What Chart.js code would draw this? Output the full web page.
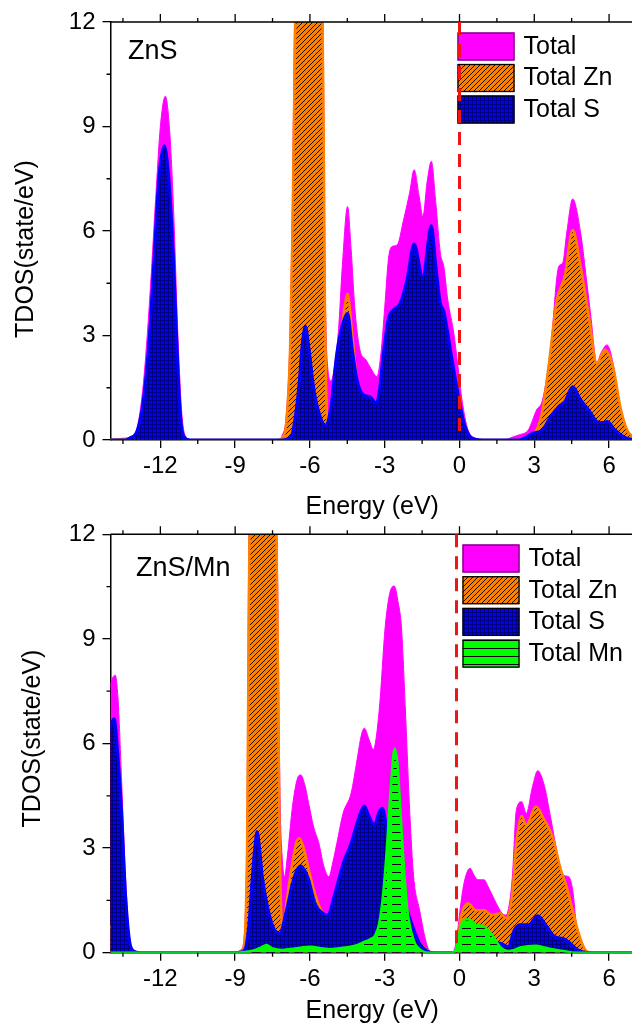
<!DOCTYPE html>
<html>
<head>
<meta charset="utf-8">
<script src="https://cdn.jsdelivr.net/npm/chart.js@4.4.1/dist/chart.umd.min.js"></script>
<style>
  html, body { margin: 0; padding: 0; background: #fff; overflow: hidden; width: 632px; height: 1026px; }
  canvas { position: absolute; left: 0; }
  #zns { top: 0; }
  #znsmn { top: 500px; }
</style>
</head>
<body>
<canvas id="zns" width="640" height="530"></canvas>
<canvas id="znsmn" width="640" height="526"></canvas>
<script>
// Axis ticks and labels
const energyTicks = [-12, -9, -6, -3, 0, 3, 6];
const energyMinor = [-13.5, -10.5, -7.5, -4.5, -1.5, 1.5, 4.5];
const dosTicks = [0, 3, 6, 9, 12];
const dosMinor = [1.5, 4.5, 7.5, 10.5];
const seriesNames = ['Total', 'Total Zn', 'Total S', 'Total Mn'];
const panelNames = ['ZnS', 'ZnS/Mn'];
const xTitle = 'Energy (eV)';
const yTitle = 'TDOS(state/eV)';
const fermiLevels = [0, -0.12];

// ---- ZnS: total DOS
const znsTotalE = [-14.5, -13.3, -13.1, -12.92, -12.68, -12.43, -12.19, -12.0, -11.8, -11.62,
  -11.46, -11.3, -11.14, -10.98, -10.7, -7.3, -7.1, -6.95, -6.8, -6.7,
  -6.6, -6.3, -5.9, -5.6, -5.5, -5.45, -5.4, -5.35, -5.3, -5.15,
  -5.0, -4.85, -4.7, -4.49, -4.35, -4.2, -4.0, -3.75, -3.55, -3.31,
  -3.15, -3.0, -2.85, -2.72, -2.5, -2.25, -2.0, -1.82, -1.62, -1.47,
  -1.3, -1.13, -0.95, -0.77, -0.63, -0.47, -0.23, -0.06, 0.1, 0.34,
  0.66, 1.0, 1.8, 2.11, 2.4, 2.76, 3.09, 3.33, 3.65, 3.98,
  4.14, 4.3, 4.54, 4.86, 5.11, 5.27, 5.51, 5.67, 5.92, 6.16,
  6.4, 6.65, 6.93, 7.5];
const znsTotal = [0, 0, 0.1, 0.38, 1.63, 4.02, 6.9, 9.0, 9.87, 8.8,
  6.42, 3.07, 0.77, 0.1, 0, 0, 0.15, 0.7, 3.0, 7.0,
  13, 19, 19, 16, 13.5, 10, 5, 3, 2.2, 1.7,
  2.2, 3.2, 5.0, 6.7, 5.5, 3.8, 2.6, 2.3, 2.05, 1.82,
  2.5, 3.8, 5.2, 5.55, 5.6, 6.3, 7.1, 7.76, 7.0, 6.42,
  7.4, 8.0, 6.8, 5.37, 4.98, 4.02, 3.07, 2.1, 1.15, 0.29,
  0.05, 0, 0, 0.08, 0.15, 0.29, 0.86, 1.15, 2.59, 4.98,
  5.08, 5.94, 6.92, 5.94, 4.5, 3.54, 2.2, 2.49, 2.73, 2.2,
  1.15, 0.38, 0.05, 0];

// ---- ZnS: Zn projected DOS
const znsZnE = [-14.5, -12.8, -11.84, -11.2, -10.8, -7.3, -7.06, -6.95, -6.8, -6.7,
  -6.58, -6.3, -5.9, -5.6, -5.5, -5.45, -5.4, -5.35, -5.3, -5.15,
  -5.0, -4.8, -4.65, -4.49, -4.3, -4.1, -3.8, -3.3, -2.5, -1.8,
  -1.1, -0.5, 0, 0.3, 0.6, 1.0, 2.4, 2.76, 3.09, 3.33,
  3.57, 3.9, 4.22, 4.54, 4.86, 5.19, 5.51, 5.67, 5.83, 6.16,
  6.48, 6.8, 7.5];
const znsZn = [0, 0.1, 1.2, 0.1, 0, 0, 0.1, 0.5, 2.5, 6,
  12.5, 17, 17, 15, 12.5, 9, 4, 1.5, 0.55, 0.8,
  1.3, 2.6, 3.6, 4.2, 3.0, 1.6, 1.0, 0.8, 1.2, 1.6,
  1.5, 1.0, 0.5, 0.15, 0.02, 0, 0, 0.05, 0.29, 0.86,
  2.1, 4.0, 4.7, 6.03, 4.98, 3.54, 2.2, 2.4, 2.59, 2.1,
  0.86, 0.2, 0];

// ---- ZnS: S projected DOS
const znsSE = [-14.5, -13.4, -13.24, -12.92, -12.68, -12.43, -12.27, -12.05, -11.84, -11.65,
  -11.46, -11.3, -11.19, -11.06, -10.8, -7.1, -6.85, -6.72, -6.6, -6.45,
  -6.3, -6.18, -6.05, -5.85, -5.6, -5.38, -5.15, -4.92, -4.7, -4.49,
  -4.3, -4.11, -3.85, -3.58, -3.34, -3.2, -3.05, -2.85, -2.65, -2.38,
  -2.11, -1.82, -1.48, -1.13, -0.95, -0.77, -0.63, -0.5, -0.25, 0,
  0.2, 0.4, 0.6, 0.9, 2.4, 2.93, 3.33, 3.65, 3.98, 4.22,
  4.54, 4.86, 5.19, 5.51, 5.75, 5.92, 6.24, 6.57, 6.9, 7.5];
const znsS = [0, 0, 0.05, 0.29, 1.15, 3.07, 4.98, 7.6, 8.45, 7.4,
  4.98, 2.1, 0.67, 0.1, 0, 0, 0.05, 0.15, 0.6, 1.5,
  2.8, 3.26, 2.7, 1.5, 0.7, 0.43, 1.0, 2.5, 3.3, 3.64,
  2.6, 1.72, 1.29, 1.24, 1.05, 1.5, 2.5, 3.5, 3.74, 3.93,
  4.6, 5.63, 4.69, 6.15, 5.0, 3.93, 3.7, 3.2, 2.1, 1.1,
  0.45, 0.12, 0.02, 0, 0, 0.19, 0.29, 0.67, 0.96, 1.1,
  1.53, 1.15, 0.86, 0.53, 0.5, 0.53, 0.29, 0.1, 0.02, 0];

// ---- ZnS/Mn: total DOS
const mnTotalE = [-14.5, -14.2, -14.0, -13.81, -13.7, -13.56, -13.4, -13.24, -13.08, -12.8,
  -9.0, -8.75, -8.63, -8.56, -8.52, -8.48, -8.44, -8.2, -7.7, -7.4,
  -7.33, -7.27, -7.2, -7.1, -7.02, -6.9, -6.7, -6.5, -6.37, -6.2,
  -6.05, -5.85, -5.64, -5.45, -5.24, -5.08, -4.92, -4.67, -4.35, -4.11,
  -3.95, -3.82, -3.62, -3.46, -3.22, -2.98, -2.8, -2.62, -2.45, -2.33,
  -2.17, -2.0, -1.84, -1.6, -1.36, -1.2, -1.0, -0.35, -0.2, -0.08,
  0.02, 0.18, 0.42, 0.6, 0.74, 0.99, 1.15, 1.47, 1.71, 1.87,
  2.0, 2.12, 2.28, 2.49, 2.68, 2.93, 3.14, 3.41, 3.65, 3.9,
  4.14, 4.38, 4.54, 4.7, 4.95, 5.2, 5.5, 7.5];
const mnTotal = [4.5, 6.8, 7.7, 7.96, 7.3, 5.05, 2.18, 0.46, 0.1, 0,
  0, 0.1, 0.5, 2.0, 4.0, 9, 13, 18, 18, 14,
  12.5, 9, 4.5, 2.6, 2.18, 2.8, 4.2, 5.0, 5.1, 4.8,
  4.28, 3.6, 3.14, 2.5, 2.18, 2.6, 3.14, 4.0, 4.57, 5.53,
  6.2, 6.44, 6.1, 5.83, 6.96, 9.35, 10.3, 10.52, 10.0, 9.35,
  6.96, 4.09, 2.18, 1.22, 0.36, 0.05, 0, 0, 0.1, 0.6,
  1.22, 1.99, 2.42, 2.2, 2.09, 2.09, 1.89, 1.42, 1.13, 1.08,
  1.4, 2.18, 4.09, 4.33, 4.0, 4.77, 5.22, 4.77, 3.9, 2.94,
  2.23, 2.18, 1.8, 0.75, 0.17, 0.02, 0, 0];

// ---- ZnS/Mn: Zn projected DOS
const mnZnE = [-14.5, -13.8, -13.3, -13.0, -9.0, -8.75, -8.63, -8.56, -8.52, -8.47,
  -8.42, -8.1, -7.7, -7.4, -7.35, -7.28, -7.22, -7.15, -7.08, -6.95,
  -6.7, -6.55, -6.42, -6.25, -6.05, -5.8, -5.5, -5.2, -4.5, -3.5,
  -2.6, -2.0, -1.5, -1.0, -0.2, -0.05, 0.02, 0.15, 0.34, 0.66,
  0.99, 1.31, 1.63, 1.87, 2.12, 2.28, 2.49, 2.68, 3.06, 3.41,
  3.73, 4.06, 4.3, 4.54, 4.78, 5.03, 5.3, 7.5];
const mnZn = [0.4, 0.8, 0.2, 0, 0, 0.05, 0.3, 1.5, 3.2, 8,
  12.5, 17, 17, 13.5, 12.5, 8, 3.5, 1.2, 0.6, 1.4,
  2.6, 3.15, 3.28, 3.0, 2.4, 1.7, 1.15, 1.0, 1.2, 1.3,
  1.2, 0.8, 0.2, 0, 0, 0.2, 0.84, 1.25, 1.42, 1.22,
  1.22, 1.08, 1.13, 0.99, 1.7, 3.14, 3.92, 3.66, 4.19, 3.8,
  3.33, 2.4, 1.89, 1.22, 0.56, 0.1, 0, 0];

// ---- ZnS/Mn: S projected DOS
const mnSE = [-14.5, -14.2, -14.0, -13.85, -13.72, -13.56, -13.4, -13.24, -13.08, -12.8,
  -9.0, -8.75, -8.6, -8.45, -8.31, -8.2, -8.12, -8.02, -7.91, -7.67,
  -7.42, -7.21, -6.94, -6.7, -6.5, -6.37, -6.2, -6.05, -5.8, -5.48,
  -5.29, -5.0, -4.67, -4.35, -4.03, -3.82, -3.65, -3.41, -3.25, -3.09,
  -2.95, -2.75, -2.5, -2.25, -2.0, -1.8, -1.6, -1.3, -1.0, -0.2,
  0.02, 0.34, 0.99, 1.63, 1.95, 2.2, 2.44, 2.76, 3.14, 3.5,
  3.82, 4.14, 4.38, 4.7, 4.95, 5.3, 7.5];
const mnS = [4.0, 5.9, 6.5, 6.72, 5.8, 4.09, 1.7, 0.36, 0.05, 0,
  0, 0.02, 0.1, 0.8, 2.18, 3.1, 3.47, 3.0, 2.18, 1.22,
  0.65, 0.56, 1.22, 1.99, 2.4, 2.49, 2.35, 2.09, 1.42, 1.13,
  1.08, 1.7, 2.56, 3.14, 3.9, 4.21, 3.95, 3.66, 4.0, 4.14,
  3.7, 2.8, 2.0, 1.5, 1.0, 0.6, 0.27, 0.05, 0, 0,
  0.17, 0.36, 0.22, 0.27, 0.17, 0.65, 0.8, 0.8, 1.06, 0.75,
  0.46, 0.41, 0.31, 0.1, 0.02, 0, 0];

// ---- ZnS/Mn: Mn projected DOS
const mnMnE = [-14.5, -9.0, -8.6, -8.2, -7.95, -7.75, -7.5, -7.1, -6.6, -5.96,
  -5.5, -5.16, -4.6, -4.19, -3.85, -3.6, -3.38, -3.22, -3.06, -2.9,
  -2.75, -2.6, -2.5, -2.41, -2.25, -2.09, -1.84, -1.5, -1.2, -0.3,
  -0.17, -0.05, 0.1, 0.34, 0.66, 0.99, 1.15, 1.31, 1.63, 1.95,
  2.2, 2.44, 3.06, 3.4, 3.73, 4.22, 4.6, 7.5];
const mnMn = [0, 0, 0.02, 0.08, 0.15, 0.22, 0.12, 0.08, 0.12, 0.17,
  0.12, 0.1, 0.15, 0.2, 0.3, 0.38, 0.5, 0.84, 1.7, 3.14,
  4.8, 5.86, 5.5, 4.57, 2.66, 1.22, 0.36, 0.05, 0, 0,
  0.05, 0.4, 0.84, 0.96, 0.8, 0.75, 0.65, 0.51, 0.17, 0.05,
  0.08, 0.15, 0.2, 0.15, 0.1, 0.04, 0, 0];

const MAGENTA = '#ff00ff', ORANGE = '#ff8000', BLUE = '#0000ff', GREEN = '#00ff00';
const FONT = '"Liberation Sans", Arial, Helvetica, sans-serif';
Chart.defaults.font.family = FONT;
Chart.defaults.color = '#000';

// Small repeating tiles used as fill patterns
function tile(w, h, bg, paint) {
  const c = document.createElement('canvas');
  c.width = w; c.height = h;
  const g = c.getContext('2d');
  g.fillStyle = bg; g.fillRect(0, 0, w, h);
  g.strokeStyle = '#000'; g.fillStyle = '#000';
  paint(g, w, h);
  return c;
}
const hatchTile = tile(5, 5, ORANGE, (g, w, h) => {
  g.lineWidth = 0.9;
  g.beginPath();
  g.moveTo(-1, h + 1); g.lineTo(w + 1, -1);
  g.moveTo(-1, 1); g.lineTo(1, -1);
  g.moveTo(w - 1, h + 1); g.lineTo(w + 1, h - 1);
  g.stroke();
});
const gridTile = tile(4, 4, BLUE, g => {
  g.fillStyle = 'rgba(0,0,0,0.5)';
  g.fillRect(0, 0, 4, 1); g.fillRect(0, 1, 1, 3);
});
const dashTile = tile(14, 8, GREEN, g => g.fillRect(0, 4, 9, 1));
const lineTile = tile(8, 8, GREEN, g => g.fillRect(0, 4, 8, 1));

const pts = (E, V) => E.map((x, i) => ({ x, y: V[i] }));

// Frame ticks, axis title, panel label, legend and Fermi level marker
const decorPlugin = {
  id: 'dosDecor',
  afterDatasetsDraw(chart, args, o) {
    const { ctx, chartArea: a } = chart;
    const x = chart.scales.x, y = chart.scales.y;
    ctx.save();
    ctx.strokeStyle = '#000';
    ctx.lineWidth = 1.5;
    ctx.beginPath();
    ctx.moveTo(a.left, a.top); ctx.lineTo(a.right, a.top); ctx.lineTo(a.right, a.bottom);
    ctx.stroke();
    ctx.lineWidth = 1.3;
    ctx.beginPath();
    energyTicks.forEach(v => { const p = x.getPixelForValue(v); ctx.moveTo(p, a.top); ctx.lineTo(p, a.top - 8); });
    energyMinor.forEach(v => {
      const p = x.getPixelForValue(v);
      ctx.moveTo(p, a.top); ctx.lineTo(p, a.top - 4);
      ctx.moveTo(p, a.bottom); ctx.lineTo(p, a.bottom + 4);
    });
    dosMinor.forEach(v => { const p = y.getPixelForValue(v); ctx.moveTo(a.left, p); ctx.lineTo(a.left - 4, p); });
    ctx.stroke();

    ctx.fillStyle = '#000';
    ctx.textBaseline = 'middle';
    ctx.save();
    ctx.translate(o.yTitleX, o.yTitleY);
    ctx.rotate(-Math.PI / 2);
    ctx.textAlign = 'center';
    ctx.font = '25px ' + FONT;
    ctx.fillText(yTitle, 0, 0);
    ctx.restore();

    ctx.textAlign = 'left';
    ctx.font = '27px ' + FONT;
    ctx.fillText(o.panel, o.panelX, o.panelY);

    ctx.font = '25px ' + FONT;
    chart.data.datasets.forEach((ds, i) => {
      const top = o.legendTop + i * o.legendPitch;
      ctx.fillStyle = ds.legendFill;
      ctx.fillRect(o.legendLeft, top, 57, 28);
      ctx.strokeStyle = ds.legendEdge;
      ctx.lineWidth = 1.3;
      ctx.strokeRect(o.legendLeft + 0.5, top + 0.5, 56, 27);
      ctx.fillStyle = '#000';
      ctx.fillText(ds.label, o.legendLeft + 66, top + 14.5);
    });

    const fx = x.getPixelForValue(o.fermi);
    ctx.strokeStyle = '#f01414';
    ctx.lineWidth = 3;
    ctx.setLineDash([13, 9]);
    ctx.beginPath();
    ctx.moveTo(fx, a.top); ctx.lineTo(fx, a.bottom);
    ctx.stroke();
    ctx.restore();
  }
};

function makeChart(id, series, layout) {
  const canvas = document.getElementById(id);
  const ctx = canvas.getContext('2d');
  const fills = [
    MAGENTA,
    ctx.createPattern(hatchTile, 'repeat'),
    ctx.createPattern(gridTile, 'repeat'),
    ctx.createPattern(dashTile, 'repeat')
  ];
  const legendFills = [MAGENTA, fills[1], fills[2], ctx.createPattern(lineTile, 'repeat')];
  const edges = [MAGENTA, ORANGE, BLUE, GREEN];
  const widths = [1, 2.5, 3, 2.5];
  const legendEdges = ['#7a007a', '#000', '#000', '#000'];
  const datasets = series.map((s, i) => ({
    label: seriesNames[i],
    data: pts(s[0], s[1]),
    backgroundColor: fills[i],
    borderColor: edges[i],
    borderWidth: widths[i],
    fill: 'origin',
    pointRadius: 0,
    cubicInterpolationMode: 'monotone',
    borderJoinStyle: 'round',
    order: 10 - i,
    legendFill: legendFills[i],
    legendEdge: legendEdges[i]
  }));
  return new Chart(ctx, {
    type: 'line',
    data: { datasets },
    plugins: [decorPlugin],
    options: {
      responsive: false,
      animation: false,
      devicePixelRatio: 1,
      parsing: false,
      layout: { padding: { left: 0, right: 6, top: layout.padTop, bottom: layout.padBottom } },
      plugins: {
        legend: { display: false },
        tooltip: { enabled: false },
        dosDecor: layout.decor
      },
      scales: {
        x: {
          type: 'linear', min: -14, max: 7,
          afterBuildTicks: s => { s.ticks = energyTicks.map(v => ({ value: v })); },
          afterFit: s => { s.height = layout.xHeight; },
          grid: { drawOnChartArea: false, drawTicks: true, tickLength: 8, color: '#000', lineWidth: 1.3 },
          border: { display: true, color: '#000', width: 1.5 },
          ticks: { padding: 4, color: '#000', font: { size: 24 }, maxRotation: 0, autoSkip: false, callback: v => String(v) },
          title: { display: true, text: xTitle, color: '#000', font: { size: 25 }, padding: { top: 0, bottom: 0 } }
        },
        y: {
          type: 'linear', min: 0, max: 12,
          afterBuildTicks: s => { s.ticks = dosTicks.map(v => ({ value: v })); },
          afterFit: s => { s.width = 110.5; },
          grid: { drawOnChartArea: false, drawTicks: true, tickLength: 8, color: '#000', lineWidth: 1.3 },
          border: { display: true, color: '#000', width: 1.5 },
          ticks: { padding: 7, color: '#000', font: { size: 24 }, autoSkip: false, callback: v => String(v) }
        }
      }
    }
  });
}

makeChart('zns',
  [[znsTotalE, znsTotal], [znsZnE, znsZn], [znsSE, znsS]],
  {
    padTop: 22, padBottom: 8, xHeight: 82,
    decor: { panel: panelNames[0], panelX: 128, panelY: 52, yTitleX: 26, yTitleY: 249,
      legendLeft: 457.5, legendTop: 32.5, legendPitch: 31.5, fermi: fermiLevels[0] }
  });

makeChart('znsmn',
  [[mnTotalE, mnTotal], [mnZnE, mnZn], [mnSE, mnS], [mnMnE, mnMn]],
  {
    padTop: 34.3, padBottom: 0, xHeight: 73.3,
    decor: { panel: panelNames[1], panelX: 136, panelY: 68.5, yTitleX: 33, yTitleY: 238.5,
      legendLeft: 462.5, legendTop: 44.5, legendPitch: 31.7, fermi: fermiLevels[1] }
  });
</script>
</body>
</html>
